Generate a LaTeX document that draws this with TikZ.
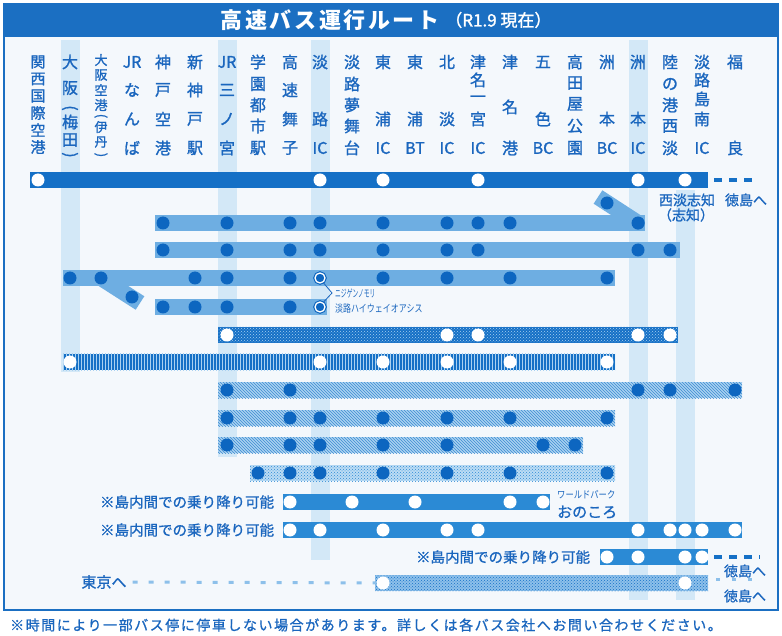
\documentclass[tikz,border=0pt]{standalone}
\usepackage{fontspec}
\setmainfont{Noto Sans CJK JP}
\usepackage{graphicx}
\usepackage{tikz}
\usetikzlibrary{positioning, patterns}
\definecolor{framebl}{HTML}{1B6FC2}
\definecolor{txtbl}{HTML}{1A66BE}
\definecolor{darkbl}{HTML}{1570C6}
\definecolor{midbl}{HTML}{2B8AD5}
\definecolor{lightbl}{HTML}{6EAEE2}
\definecolor{dotbl}{HTML}{0D66C0}
\definecolor{hilite}{HTML}{D3E8F7}
\definecolor{inbg}{HTML}{F4F8FC}
\definecolor{hatchbase}{HTML}{A9D1F1}
\definecolor{hatchline}{HTML}{3E8DD2}
\definecolor{softdot}{HTML}{BCDCF4}
\definecolor{meddot}{HTML}{8DC0EA}
\tikzstyle{hdr} = [inner sep=0pt, text=txtbl, font=\fontsize{16}{16}\selectfont\addfontfeatures{FakeBold=1.2}]
\tikzstyle{stop} = [circle, fill=dotbl, inner sep=0pt, minimum size=13pt]
\tikzstyle{wstop} = [circle, fill=white, inner sep=0pt, minimum size=13pt]
\tikzstyle{ring} = [circle, fill=dotbl, draw=dotbl, double=white, double distance=1.3pt, line width=1.1pt, inner sep=0pt, minimum size=10pt]
\tikzstyle{dband} = [fill=darkbl]
\tikzstyle{mband} = [fill=midbl]
\tikzstyle{lband} = [fill=lightbl]
\tikzstyle{lline} = [draw=lightbl, line width=16pt]
\tikzstyle{meshband} = [preaction={fill=darkbl}, pattern=crosshatch dots, pattern color=hatchbase]
\tikzstyle{vband} = [preaction={fill=darkbl}, pattern=vertical lines, pattern color=hatchbase]
\tikzstyle{hband} = [preaction={fill=hatchbase}, pattern=north west lines, pattern color=hatchline]
\tikzstyle{sband} = [preaction={fill=softdot}, pattern=crosshatch dots, pattern color=midbl]
\tikzstyle{gband} = [preaction={fill=meddot}, pattern=crosshatch dots, pattern color=darkbl]
\tikzstyle{note} = [inner sep=0pt, text=txtbl, font=\fontsize{14.5}{14.5}\selectfont\addfontfeatures{FakeBold=1}]
\tikzstyle{cont} = [dash pattern=on 8pt off 7pt, line width=4pt]
\newcommand{\stname}[3][]{\foreach \yy/\ch [count=\k] in {#3}{\node (h#2-\k) [hdr, #1] at (c#2 |- 0,\yy) {\ch};}}
\newcommand{\stops}[4]{\foreach \c in {#4}{\node (#1-\c) [#3] at (c\c |- 0,#2) {};}}
\newcommand{\vlp}{\rotatebox{-90}{(}}
\newcommand{\vrp}{\rotatebox{-90}{)}}

\begin{document}
\begin{tikzpicture}[x=1pt, y=-1pt]
	\useasboundingbox (0,0) rectangle (782,636);
	\fill [white] (0,0) rectangle (782,636);
	\fill [inbg] (4,4) rectangle (778,610);
	\fill [framebl] (4,4) rectangle (778,37);
	\draw [framebl, line width=2.5pt] (4,4) rectangle (778,610);
	\node (title) [text=white, font=\fontsize{22}{22}\selectfont\bfseries\addfontfeatures{LetterSpace=12}] at (330,20) {高速バス運行ルート};
	\node (date) [text=white, inner sep=0pt, font=\fontsize{17}{17}\selectfont\addfontfeatures{FakeBold=1.5}, right=2pt of title] {（R1.9 現在）};

	% columns
	\foreach \n/\x in {1/38,2/70,3/101,4/132,5/163,6/195,7/227,8/258,9/290,10/320,11/352,12/383,13/415,14/447,15/478,16/510,17/543,18/575,19/607,20/638,21/670,22/702,23/735,S/685}
		\coordinate (c\n) at (\x,0);
	\foreach \c/\ya/\yb in {2/40/372, 7/40/457, 10/40/560, 20/40/600, S/190/600}
		\fill [hilite] (c\c |- 0,\ya) ++(-9.5,0) rectangle ++(19,{\yb-\ya});

	% station names
	\stname[font=\fontsize{15}{15}\selectfont\addfontfeatures{FakeBold=1.2}]{1}{62/関,79/西,96/国,113/際,130/空,147/港}
	\stname{2}{62/大,88/阪,108/\vlp,122/梅,140/田,155/\vrp}
	\stname[font=\fontsize{13}{13}\selectfont\addfontfeatures{FakeBold=1.2}]{3}{60/大,75/阪,90/空,105/港,116/\vlp,127/伊,142/丹,155/\vrp}
	\stname{4}{62/JR,90/な,119/ん,148/ば}
	\stname{5}{62/神,90/戸,119/空,148/港}
	\stname{6}{62/新,90/神,119/戸,148/駅}
	\stname{7}{62/JR,90/三,119/ノ,148/宮}
	\stname{8}{62/学,84/園,105/都,126/市,148/駅}
	\stname{9}{62/高,90/速,119/舞,148/子}
	\stname{10}{62/淡,119/路,148/IC}
	\stname{11}{62/淡,84/路,105/夢,126/舞,148/台}
	\stname{12}{62/東,119/浦,148/IC}
	\stname{13}{62/東,119/浦,148/BT}
	\stname{14}{62/北,119/淡,148/IC}
	\stname{15}{62/津,80/名,99/一,119/宮,148/IC}
	\stname{16}{62/津,107/名,148/港}
	\stname{17}{62/五,119/色,148/BC}
	\stname{18}{62/高,83/田,104/屋,126/公,148/園}
	\stname{19}{62/洲,119/本,148/BC}
	\stname{20}{62/洲,119/本,148/IC}
	\stname{21}{62/陸,84/の,105/港,126/西,148/淡}
	\stname{22}{62/淡,80/路,99/島,119/南,148/IC}
	\stname{23}{62/福,148/良}

	% routes
	\coordinate (r0w) at (30,172); \coordinate (r0e) at (708,188);
	\coordinate (r1w) at (155,215); \coordinate (r1e) at (645,231);
	\coordinate (r2w) at (155,242); \coordinate (r2e) at (680,258);
	\coordinate (r3w) at (63,270); \coordinate (r3e) at (615,286);
	\coordinate (r4w) at (155,299); \coordinate (r4e) at (327,315);
	\coordinate (r5w) at (218,327); \coordinate (r5e) at (678,343);
	\coordinate (r6w) at (63,354); \coordinate (r6e) at (615,370);
	\coordinate (r7w) at (218,382); \coordinate (r7e) at (742,398);
	\coordinate (r8w) at (218,410); \coordinate (r8e) at (615,426);
	\coordinate (r9w) at (218,437); \coordinate (r9e) at (583,453);
	\coordinate (r10w) at (250,465); \coordinate (r10e) at (615,481);
	\coordinate (r11w) at (283,494); \coordinate (r11e) at (550,510);
	\coordinate (r12w) at (283,522); \coordinate (r12e) at (742,538);
	\coordinate (r13w) at (600,549); \coordinate (r13e) at (708,565);
	\coordinate (r14w) at (375,575); \coordinate (r14e) at (708,591);
	\path [dband] (r0w) rectangle (r0e);
	\path [lband] (r1w) rectangle (r1e);
	\path [lband] (r2w) rectangle (r2e);
	\path [lband] (r3w) rectangle (r3e);
	\path [lband] (r4w) rectangle (r4e);
	\path [meshband] (r5w) rectangle (r5e);
	\path [vband] (r6w) rectangle (r6e);
	\path [hband] (r7w) rectangle (r7e);
	\path [hband] (r8w) rectangle (r8e);
	\path [hband] (r9w) rectangle (r9e);
	\path [sband] (r10w) rectangle (r10e);
	\path [mband] (r11w) rectangle (r11e);
	\path [mband] (r12w) rectangle (r12e);
	\path [mband] (r13w) rectangle (r13e);
	\path [gband] (r14w) rectangle (r14e);

	% stops
	\stops{r0}{180}{wstop}{1,10,12,15,20,S}
	\stops{r1}{223}{stop}{5,7,9,10,12,14,15,16,20}
	\coordinate (r1k) at (598,197);
	\draw [lline] (r1k) -- (r1-20.center);
	\node (r1-19) [stop] at (c19 |- 0,203) {};
	\node (r1-20b) [stop] at (r1-20) {};
	\stops{r2}{250}{stop}{5,7,9,10,12,14,15,20,21}
	\stops{r3}{278}{stop}{2,6,7,9,12,14,16,19}
	\coordinate (r3k) at (140,303);
	\draw [lline] (c3 |- 0,278) -- (r3k);
	\node (r3-3) [stop] at (c3 |- 0,278) {};
	\node (r3-4) [stop] at (c4 |- 0,297) {};
	\node (r3-10) [ring] at (c10 |- 0,278) {};
	\stops{r4}{307}{stop}{5,6,7,9}
	\node (r4-10) [ring] at (c10 |- 0,307) {};
	\stops{r5}{335}{wstop}{7,14,15,20,21}
	\stops{r6}{362}{wstop}{2,10,12,14,16,19}
	\stops{r7}{390}{stop}{7,9,20,21,23}
	\stops{r8}{418}{stop}{7,9,10,12,14,16,19}
	\stops{r9}{445}{stop}{7,9,10,12,14,17,18}
	\stops{r10}{473}{stop}{8,9,10,12,14,16,19}
	\stops{r11}{502}{wstop}{9,11,13,16,17}
	\stops{r12}{530}{wstop}{9,10,12,14,15,20,21,S,22,23}
	\stops{r13}{557}{wstop}{19,20,S,22}
	\stops{r14}{583}{wstop}{12,S}

	% labels
	\coordinate (niji) at (332,293);
	\draw [txtbl, line width=0.8pt] (r3-10.-55) -- (niji) -- (r4-10.55);
	\node (nijiA) [anchor=west, inner sep=0pt, text=txtbl, font=\fontsize{10.5}{10.5}\selectfont] at (335,293) {\scalebox{0.55}[1]{ニジゲンノモリ}};
	\node (nijiB) [anchor=west, inner sep=0pt, text=txtbl, font=\fontsize{10.5}{10.5}\selectfont] at (335,309) {\scalebox{0.76}[1]{淡路ハイウェイオアシス}};
	\node (shiA) [note, font=\fontsize{14}{14}\selectfont\addfontfeatures{FakeBold=1}] at (687,200) {西淡志知};
	\node (shiB) [note, font=\fontsize{14}{14}\selectfont\addfontfeatures{FakeBold=1}] at (686,215) {（志知）};
	\node (toku0) [note, font=\fontsize{14}{14}\selectfont\addfontfeatures{FakeBold=1}] at (746,200) {徳島へ};
	\coordinate (r0t) at (757,180);
	\draw [cont, darkbl] (r0e |- 0,180) ++(6,0) -- (r0t);
	\node (park) [anchor=west, inner sep=0pt, text=txtbl, font=\fontsize{10}{10}\selectfont] at (557,495) {\scalebox{0.83}[1]{ワールドパーク}};
	\node (onokoro) [anchor=west, inner sep=0pt, text=txtbl, font=\fontsize{15}{15}\selectfont\addfontfeatures{FakeBold=1}] at (557,512) {おのころ};
	\node (free11) [note, left=9pt of r11-9] {※島内間での乗り降り可能};
	\node (free12) [note, left=9pt of r12-9] {※島内間での乗り降り可能};
	\node (free13) [note, left=10pt of r13-19] {※島内間での乗り降り可能};
	\coordinate (r13t) at (760,557);
	\draw [cont, darkbl] (r13e |- 0,557) ++(6,0) -- (r13t);
	\node (toku13) [note, font=\fontsize{14}{14}\selectfont\addfontfeatures{FakeBold=1}] at (745,571) {徳島へ};
	\node (tokyo) [note, font=\fontsize{15}{15}\selectfont\addfontfeatures{FakeBold=1}] at (104,582) {東京へ};
	\draw [meddot, line width=3pt, dash pattern=on 5pt off 11pt] (tokyo.east) ++(6,0) -- (r14-12.west);
	\coordinate (r14t) at (757,579);
	\draw [meddot, line width=3pt, dash pattern=on 4pt off 12pt] (716,579) -- (r14t);
	\node (toku14) [note, font=\fontsize{14}{14}\selectfont\addfontfeatures{FakeBold=1}] at (745,596) {徳島へ};
	\node (foot) [text=txtbl, font=\fontsize{14}{14}\selectfont\addfontfeatures{LetterSpace=11,FakeBold=1}] at (366,625) {※時間により一部バス停に停車しない場合があります。詳しくは各バス会社へお問い合わせください。};
\end{tikzpicture}
\end{document}
